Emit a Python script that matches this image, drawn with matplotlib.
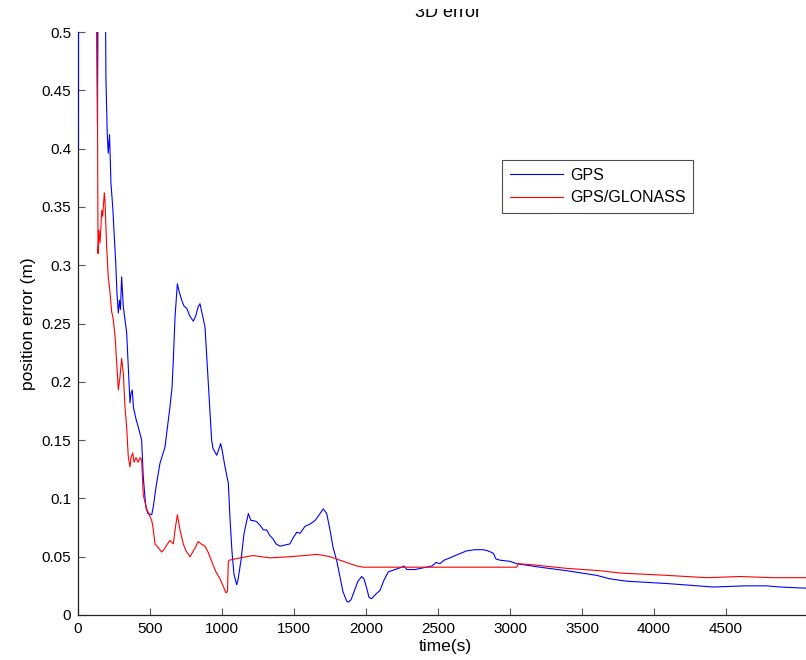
import matplotlib
matplotlib.use("Agg")
import matplotlib.pyplot as plt
from matplotlib.transforms import Bbox

plt.rcParams['font.family'] = ['Liberation Sans', 'DejaVu Sans']

# GPS-only solution: time (s) and 3D position error (m)
gps_t = [0, 7, 125, 135, 142, 187, 194, 203, 210, 219, 229, 241, 252, 262, 271,
         280, 288, 295, 303, 315, 338, 361, 368, 377, 385, 403, 419, 442, 453,
         465, 472, 486, 512, 523, 542, 569, 604, 639, 653, 662, 674, 690, 701,
         720, 736, 755, 778, 801, 819, 833, 847, 861, 882, 905, 928, 937, 963,
         972, 991, 1000, 1021, 1044, 1055, 1069, 1083, 1102, 1111, 1132, 1153,
         1183, 1201, 1217, 1241, 1264, 1287, 1310, 1333, 1356, 1375, 1403, 1437,
         1472, 1493, 1519, 1542, 1576, 1611, 1646, 1681, 1703, 1727, 1750, 1771,
         1796, 1819, 1840, 1866, 1877, 1896, 1917, 1944, 1970, 1986, 2007, 2021,
         2039, 2069, 2097, 2125, 2155, 2201, 2248, 2264, 2283, 2340, 2421, 2458,
         2486, 2514, 2542, 2583, 2639, 2699, 2757, 2815, 2847, 2884, 2903, 2931,
         3000, 3046, 3208, 3393, 3602, 3694, 3810, 4088, 4412, 4632, 4782, 4875,
         5055]
gps_err = [0.40, 0.60, 0.60, 0.42, 0.60, 0.60, 0.46, 0.413, 0.396, 0.412, 0.37,
           0.35, 0.324, 0.302, 0.275, 0.259, 0.270, 0.262, 0.290, 0.264, 0.242,
           0.182, 0.19, 0.193, 0.178, 0.168, 0.161, 0.150, 0.119, 0.101, 0.092,
           0.087, 0.086, 0.093, 0.11, 0.130, 0.144, 0.179, 0.195, 0.219, 0.256,
           0.284, 0.278, 0.270, 0.265, 0.263, 0.256, 0.252, 0.257, 0.264, 0.267,
           0.259, 0.247, 0.199, 0.150, 0.143, 0.137, 0.140, 0.147, 0.142, 0.127,
           0.113, 0.084, 0.055, 0.035, 0.026, 0.030, 0.047, 0.070, 0.087, 0.081,
           0.081, 0.080, 0.077, 0.073, 0.073, 0.068, 0.065, 0.061, 0.059, 0.060,
           0.061, 0.066, 0.071, 0.070, 0.076, 0.078, 0.081, 0.087, 0.091, 0.087,
           0.073, 0.058, 0.047, 0.033, 0.020, 0.012, 0.011, 0.013, 0.020, 0.029,
           0.033, 0.031, 0.022, 0.015, 0.014, 0.018, 0.021, 0.030, 0.037, 0.039,
           0.041, 0.042, 0.039, 0.039, 0.041, 0.042, 0.045, 0.044, 0.047, 0.049,
           0.052, 0.055, 0.056, 0.056, 0.055, 0.053, 0.048, 0.047, 0.046, 0.044,
           0.041, 0.038, 0.034, 0.031, 0.029, 0.027, 0.024, 0.025, 0.025, 0.024,
           0.023]

# Combined GPS/GLONASS solution
glo_t = [0, 125, 135, 139, 146, 153, 165, 171, 183, 187, 199, 210, 222, 234, 243,
         257, 280, 292, 303, 315, 326, 338, 349, 361, 368, 380, 389, 403, 417,
         431, 442, 453, 465, 477, 512, 521, 535, 556, 581, 597, 616, 639, 662,
         674, 690, 708, 731, 750, 778, 806, 835, 854, 882, 903, 928, 958, 986,
         1007, 1028, 1038, 1044, 1051, 1125, 1217, 1271, 1333, 1472, 1576, 1657,
         1708, 1750, 1819, 1889, 1937, 1981, 2097, 2236, 2444, 2676, 2908, 3046,
         3057, 3160, 3393, 3625, 3764, 4088, 4366, 4597, 4826, 5055]
glo_err = [0.60, 0.60, 0.45, 0.31, 0.33, 0.319, 0.347, 0.342, 0.362, 0.356, 0.316,
           0.290, 0.277, 0.260, 0.255, 0.240, 0.193, 0.205, 0.220, 0.207, 0.179,
           0.161, 0.136, 0.127, 0.135, 0.139, 0.131, 0.135, 0.131, 0.135, 0.133,
           0.103, 0.097, 0.091, 0.081, 0.075, 0.061, 0.058, 0.054, 0.056, 0.060,
           0.064, 0.061, 0.073, 0.086, 0.073, 0.061, 0.055, 0.050, 0.056, 0.063,
           0.061, 0.059, 0.054, 0.046, 0.037, 0.031, 0.025, 0.019, 0.020, 0.046,
           0.047, 0.049, 0.051, 0.050, 0.049, 0.050, 0.051, 0.052, 0.051, 0.050,
           0.047, 0.044, 0.042, 0.041, 0.041, 0.041, 0.041, 0.041, 0.041, 0.041,
           0.044, 0.043, 0.040, 0.038, 0.036, 0.034, 0.032, 0.033, 0.032, 0.032]

series_labels = ['GPS', 'GPS/GLONASS']
x_ticks = [0, 500, 1000, 1500, 2000, 2500, 3000, 3500, 4000, 4500]
y_ticks = [0, 0.05, 0.1, 0.15, 0.2, 0.25, 0.3, 0.35, 0.4, 0.45, 0.5]
y_tick_labels = ['0', '0.05', '0.1', '0.15', '0.2', '0.25', '0.3', '0.35',
                 '0.4', '0.45', '0.5']

W, H = 806, 660
fig = plt.figure(figsize=(W / 100, H / 100), dpi=100)
x_max = 5100
ax = fig.add_axes([78 / W, 45 / H, (x_max / 500 * 72) / W, 583 / H])

ax.plot(gps_t, gps_err, color='#0000ff', lw=0.8, label=series_labels[0],
        zorder=3)
ax.plot(glo_t, glo_err, color='#ff0000', lw=0.8, label=series_labels[1],
        zorder=3)

ax.set_xlim(0, x_max)
ax.set_ylim(0, 0.5)
ax.set_xticks(x_ticks)
ax.set_yticks(y_ticks)
ax.set_yticklabels(y_tick_labels)
ax.tick_params(direction='in', length=5, width=0.8, color='#555555',
               labelsize=11, pad=5)
ax.spines['top'].set_visible(False)
ax.spines['right'].set_visible(False)
for s in ('left', 'bottom'):
    ax.spines[s].set_color('#222222')
    ax.spines[s].set_linewidth(0.9)

ax.set_xlabel('time(s)', fontsize=12.5, labelpad=2)
ax.set_ylabel('position error (m)', fontsize=12.5, labelpad=4)

# Title sits at the top edge; only its lower part shows below the frame edge
title = fig.text(448 / W, 1 - 17 / H, '3D error', fontsize=13, ha='center',
                 va='baseline')
title.set_clip_box(Bbox.from_extents(0, 0, W, H - 9))
title.set_clip_on(True)

leg = ax.legend(loc='upper left', bbox_to_anchor=(502 / W, 1 - 160 / H),
                bbox_transform=fig.transFigure, borderaxespad=0,
                fancybox=False, fontsize=11.5, handlelength=3.3,
                handletextpad=0.45, labelspacing=0.45, borderpad=0.5)
leg.get_frame().set_edgecolor('#222222')
leg.get_frame().set_linewidth(0.8)

fig.savefig('out.png', dpi=100)
